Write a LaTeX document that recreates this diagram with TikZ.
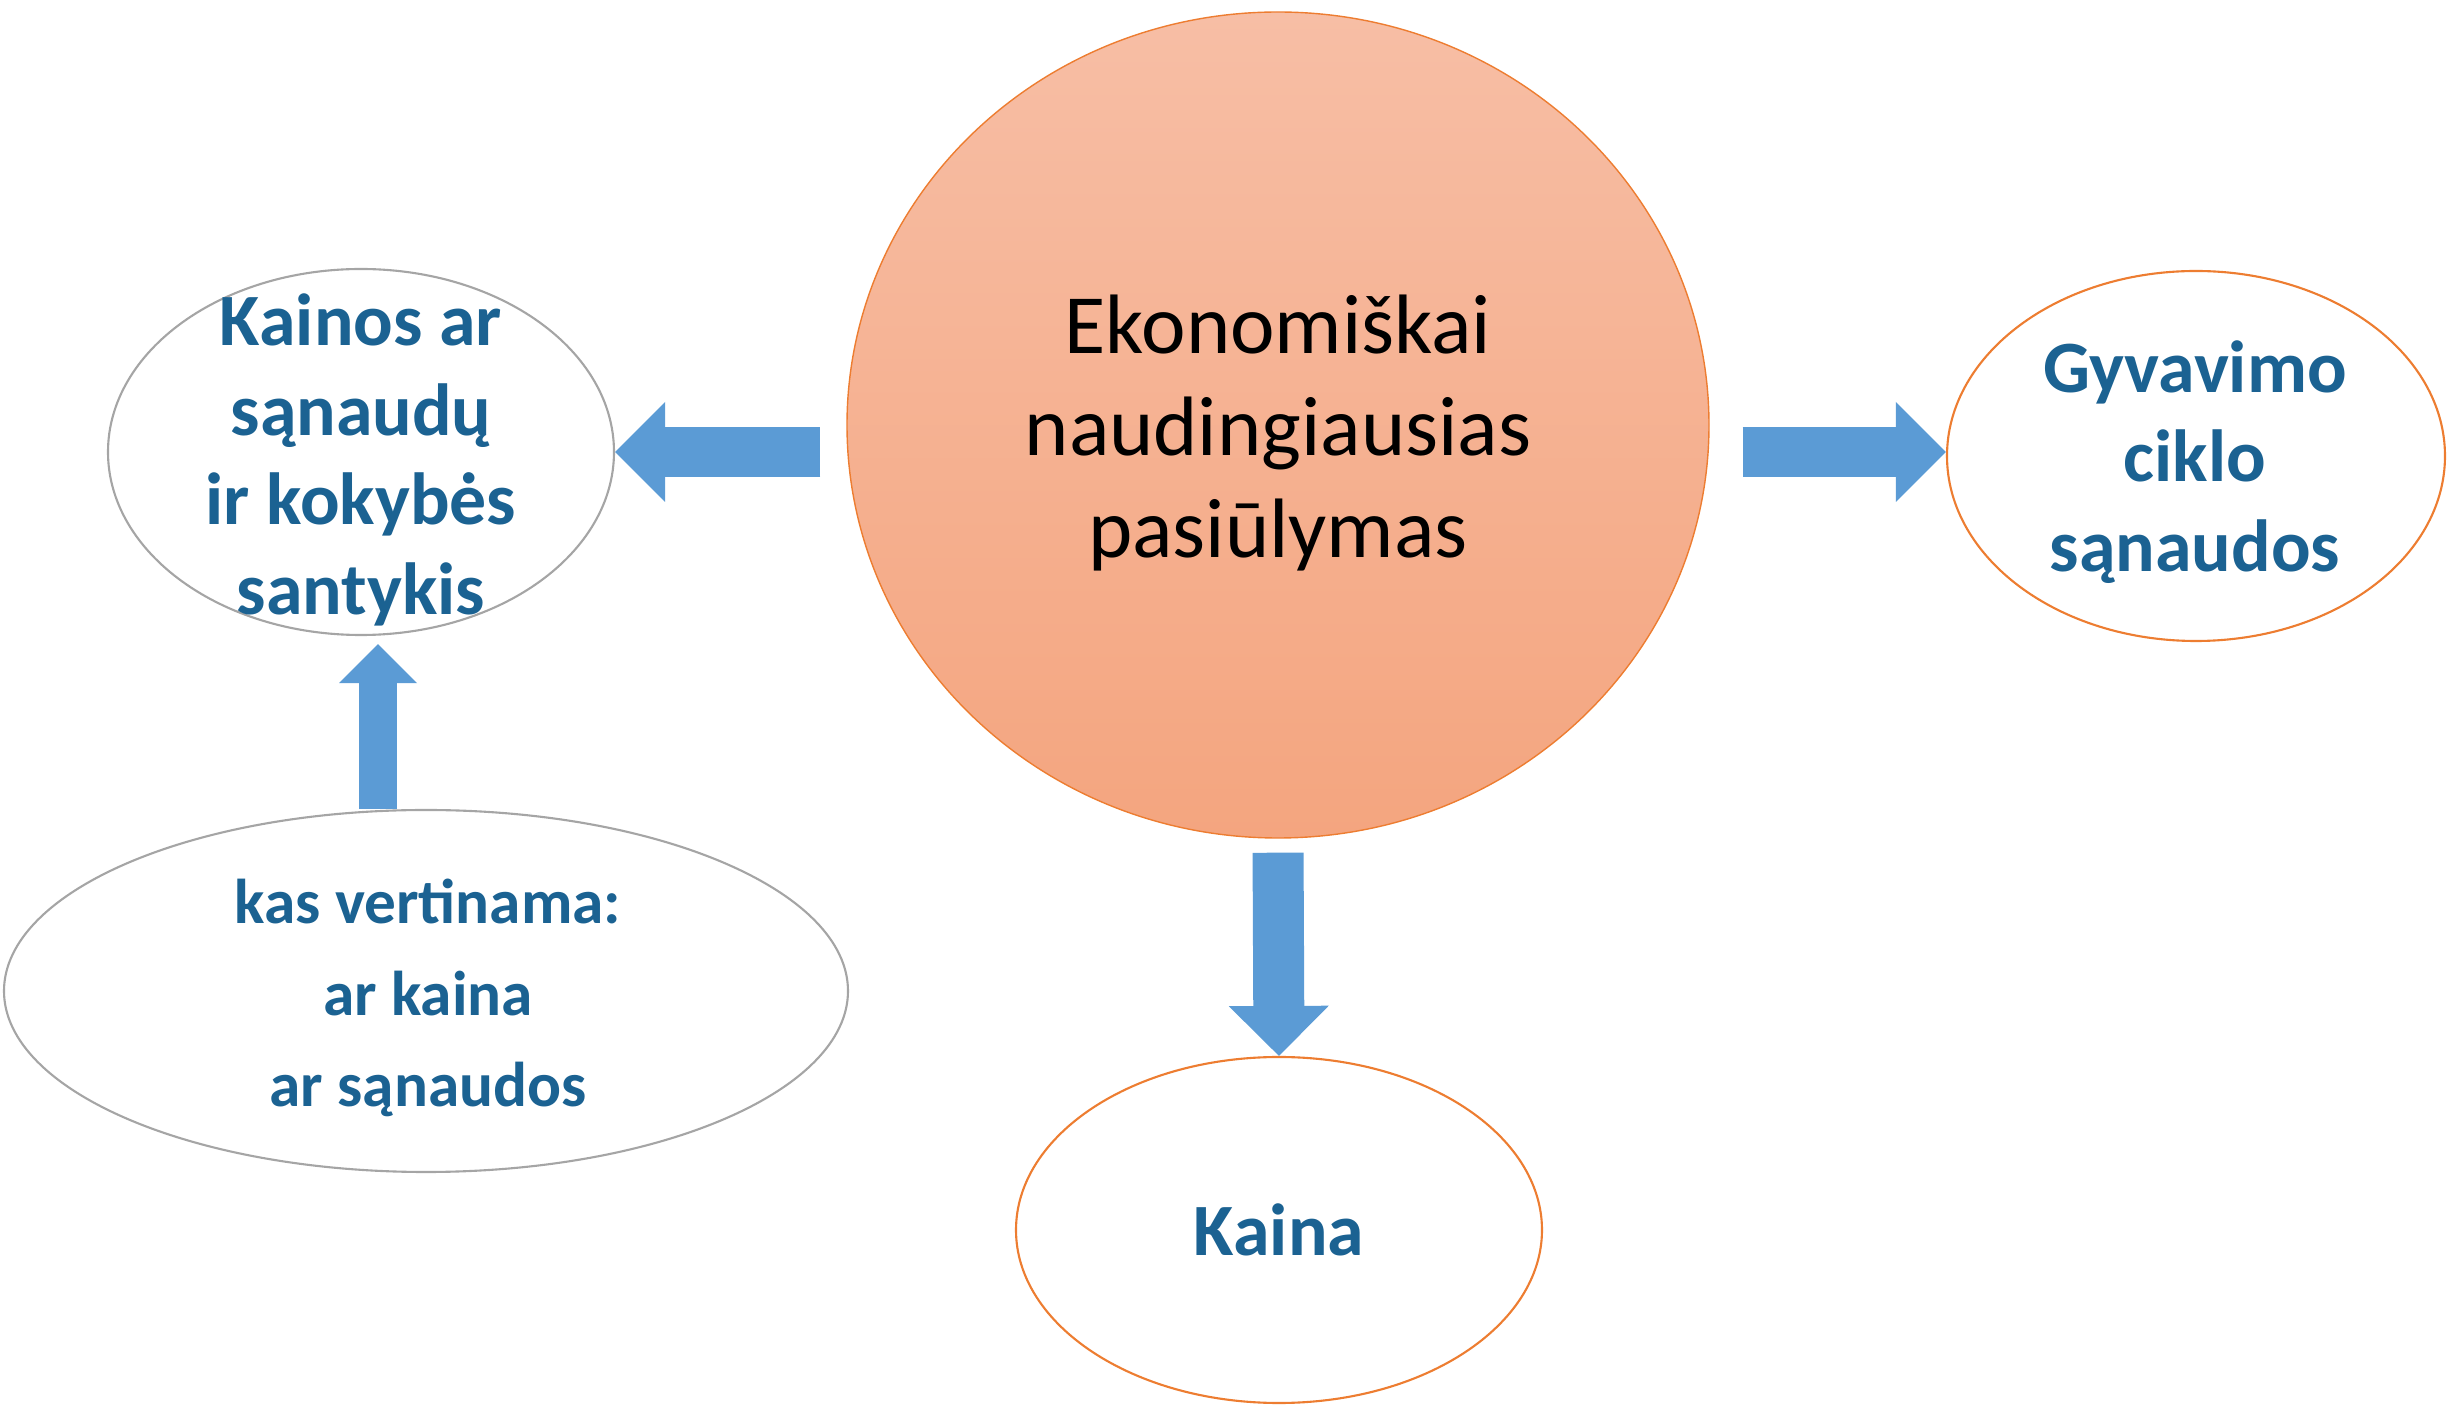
\documentclass[tikz,border=0pt]{standalone}
\usepackage{fontspec}
\setmainfont{Carlito}
\usetikzlibrary{shapes.geometric,arrows.meta}
\definecolor{arrowblue}{HTML}{5B9BD5}
\definecolor{textblue}{HTML}{1B6292}
\definecolor{ovalorange}{HTML}{ED7D31}
\definecolor{ovalgrey}{HTML}{A5A5A5}
\definecolor{peachtop}{HTML}{F7BEA5}
\definecolor{peachbottom}{HTML}{F4A57F}
\tikzset{
  oval/.style={ellipse, draw=ovalorange, line width=0.6pt, fill=white, inner sep=0pt},
  greyoval/.style={oval, draw=ovalgrey},
  bluetext/.style={text=textblue, font=\fontsize{21}{25.5}\selectfont\bfseries, align=center},
  fatarrow/.style={draw=arrowblue, line width=0.5cm, -{Triangle[width=1cm,length=0.5cm,line width=0pt]}}
}
\begin{document}
\begin{tikzpicture}
  \useasboundingbox (0,0) rectangle (24.58,14.05);
  \node[ellipse, draw=ovalorange, line width=0.4pt, top color=peachtop, bottom color=peachbottom,
        minimum width=8.62cm, minimum height=8.26cm] (offer) at (12.78,9.80) {};
  \node[font=\fontsize{24}{29}\selectfont, align=center] at (12.78,9.72) {Ekonomiškai\\naudingiausias\\pasiūlymas};
  \node[greyoval, minimum width=5.06cm, minimum height=3.66cm] (ratio) at (3.61,9.53) {};
  \node[bluetext] at (3.61,9.45) {Kainos ar\\sąnaudų\\ir kokybės\\santykis};
  \node[greyoval, minimum width=8.44cm, minimum height=3.62cm] (value) at (4.26,4.14) {};
  \node[bluetext, font=\fontsize{18}{26}\selectfont\bfseries] at (4.28,4.07) {kas vertinama:\\ar kaina\\ar sąnaudos};
  \node[oval, minimum width=4.98cm, minimum height=3.70cm] (lcc) at (21.96,9.49) {};
  \node[bluetext] at (21.95,9.43) {Gyvavimo\\ciklo\\sąnaudos};
  \node[oval, minimum width=5.26cm, minimum height=3.46cm] (price) at (12.79,1.75) {};
  \node[bluetext] at (12.79,1.75) {Kaina};
  \draw[fatarrow, shorten <=0.26cm] (offer.west |- ratio.east) -- (ratio.east);
  \draw[fatarrow, shorten <=0.33cm] ([yshift=0.04cm]offer.east |- lcc.west) -- ([yshift=0.04cm]lcc.west);
  \draw[fatarrow, line width=0.51cm, shorten <=0.14cm] (offer.south) -- (price.north);
  \draw[fatarrow, line width=0.38cm, -{Triangle[width=0.78cm,length=0.39cm,line width=0pt]}, shorten >=0.08cm]
    ([xshift=0.17cm]ratio.south |- value.north) -- ([xshift=0.17cm]ratio.south);
\end{tikzpicture}
\end{document}
